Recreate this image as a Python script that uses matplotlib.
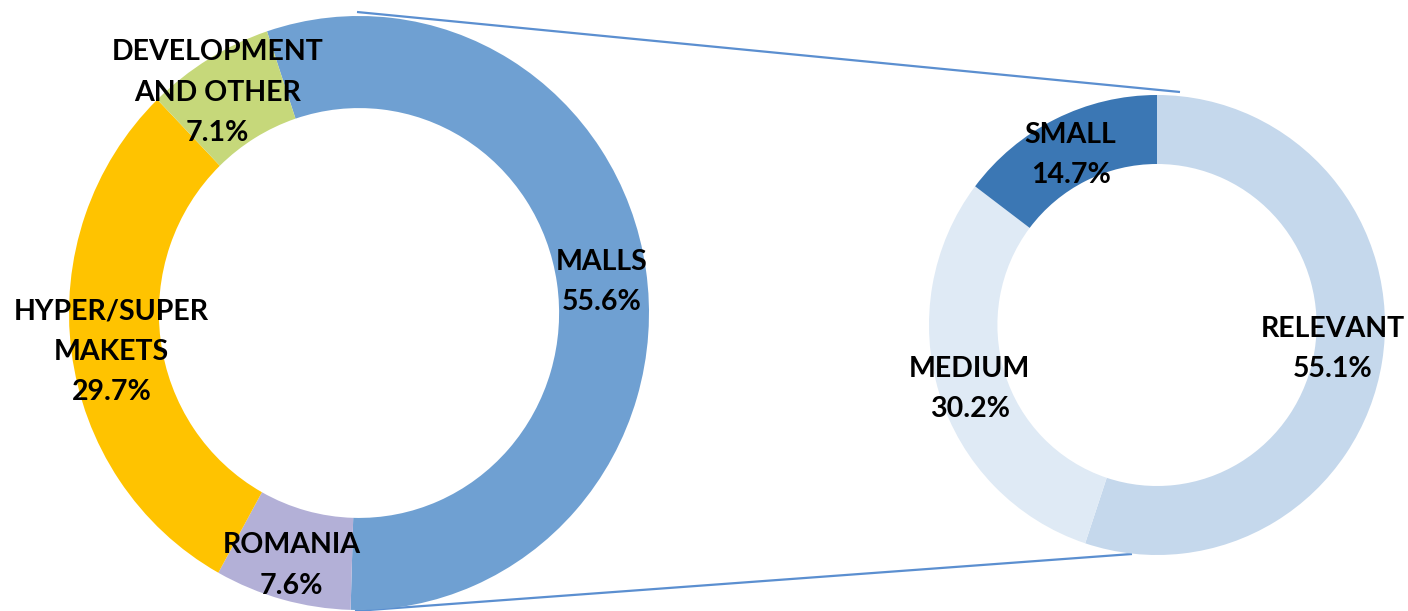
import matplotlib
matplotlib.use("Agg")
import matplotlib.pyplot as plt

# ---- data ----
left_labels = ["MALLS", "ROMANIA", "HYPER/SUPER\nMAKETS", "DEVELOPMENT\nAND OTHER"]
left_values = [55.6, 7.6, 29.7, 7.1]
left_colors = ["#6FA0D2", "#B3B0D7", "#FFC300", "#C6D87A"]

right_labels = ["RELEVANT", "MEDIUM", "SMALL"]
right_values = [55.1, 30.2, 14.7]
right_colors = ["#C5D8EC", "#DFEAF5", "#3B77B4"]

W, H = 1408, 611
fig = plt.figure(figsize=(W / 100, H / 100), dpi=100)
fig.patch.set_facecolor("white")

FONT = dict(family=["Lato", "DejaVu Sans"], fontweight="bold", fontsize=20.5, color="black")


def px_axes(cx, cy, rx, ry):
    return fig.add_axes([(cx - rx) / W, 1 - (cy + ry) / H, 2 * rx / W, 2 * ry / H])


def donut(ax, values, labels, colors, start, inner, nudges):
    wedges, texts = ax.pie(values, colors=colors, startangle=start, counterclock=False,
                           radius=1, wedgeprops=dict(width=1 - inner, linewidth=0),
                           labels=[f"{l}\n{v:.1f}%" for l, v in zip(labels, values)],
                           labeldistance=(1 + inner) / 2)
    for t, (dx, dy) in zip(texts, nudges):
        t.set_ha("center")
        t.set_va("center")
        t.set_multialignment("center")
        t.set_linespacing(1.68)
        x, y = t.get_position()
        t.set_position((x + dx, y + dy))
        t.set(**FONT)
        t.set_clip_on(False)
    ax.set_aspect("auto")
    ax.set_xlim(-1, 1)
    ax.set_ylim(-1, 1)
    ax.axis("off")


# connector lines (behind)
axl = fig.add_axes([0, 0, 1, 1], zorder=0)
axl.set_xlim(0, W)
axl.set_ylim(H, 0)
axl.axis("off")
axl.plot([357, 1180], [12, 92], color="#5B8FD0", lw=1.6, solid_capstyle="butt")
axl.plot([355, 1132], [611, 554], color="#5B8FD0", lw=1.6, solid_capstyle="butt")

ax1 = px_axes(359, 313, 290, 297)
ax1.set_zorder(1)
donut(ax1, left_values, left_labels, left_colors, 108.5, 0.69,
      [(0.0, -0.02), (-0.01, -0.035), (-0.015, -0.02), (-0.05, 0.02)])

ax2 = px_axes(1157, 325, 228, 230)
ax2.set_zorder(1)
donut(ax2, right_values, right_labels, right_colors, 90, 0.70,
      [(-0.07, 0.03), (-0.01, -0.025), (0.0, -0.023)])

fig.savefig("out.png", dpi=100, facecolor="white")
